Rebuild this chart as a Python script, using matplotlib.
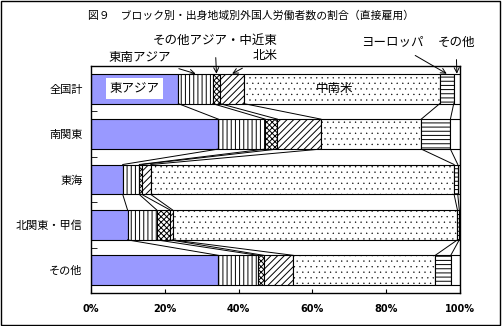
import numpy as np
import matplotlib
matplotlib.use('Agg')
import matplotlib.pyplot as plt
from matplotlib.patches import Rectangle

plt.rcParams['font.family'] = ['Noto Sans CJK JP', 'DejaVu Sans']
plt.rcParams['hatch.linewidth'] = 0.7

# データ（%）
categories = ['全国計', '南関東', '東海', '北関東・甲信', 'その他']
regions = ['東アジア', '東南アジア', 'その他アジア・中近東', '北米', '中南米', 'ヨーロッパ', 'その他']
east_asia = [23.7, 34.5, 8.6, 9.9, 34.5]
se_asia = [9.3, 12.7, 4.5, 7.9, 10.7]
other_asia = [2.0, 3.3, 0.7, 3.6, 1.6]
north_america = [6.5, 11.8, 2.4, 0.7, 8.0]
latin_america = [53.0, 27.2, 82.2, 77.2, 38.5]
europe = [3.8, 7.9, 1.0, 0.5, 4.2]
others = [1.7, 2.6, 0.6, 0.2, 2.5]
xticks = [0, 20, 40, 60, 80, 100]

series = [east_asia, se_asia, other_asia, north_america, latin_america, europe, others]
colors = ['#9999ff', 'white', 'white', 'white', 'white', 'white', 'white']
hatches = [None, '||||', 'xxxxxx', '/////', '...', '----', None]

data = np.array(series)
cum = np.vstack([np.zeros(len(categories)), np.cumsum(data, axis=0)])
y = np.arange(len(categories))
h = 0.66

fig = plt.figure(figsize=(5.03, 3.26), dpi=100)
ax = fig.add_axes([91 / 503, 1 - 293 / 326, (460 - 91) / 503, (293 - 66) / 326])

for k in range(len(series)):
    bars = ax.barh(y, data[k], left=cum[k], height=h, color=colors[k],
                   hatch=hatches[k], edgecolor='black', linewidth=0.8)
    if hatches[k] == '...':
        for b in bars:
            if hasattr(b, 'set_hatch_linewidth'):
                b.set_hatch_linewidth(0.2)

# 区分線
for i in range(len(categories) - 1):
    for k in range(1, len(series)):
        ax.plot([cum[k, i], cum[k, i + 1]], [y[i] + h / 2, y[i + 1] - h / 2],
                color='black', lw=0.7)

ax.set_xlim(0, 100)
ax.set_ylim(len(categories) - 0.5, -0.5)
ax.set_xticks(xticks)
ax.set_xticklabels([f'{t}%' for t in xticks], fontsize=7, fontweight='bold',
                   family='DejaVu Sans')
ax.set_yticks(y)
ax.set_yticklabels(categories, fontsize=8)
ax.set_yticks(np.arange(len(categories) + 1) - 0.5, minor=True)
ax.tick_params(axis='y', which='major', length=0, pad=6)
ax.tick_params(axis='y', which='minor', length=4, direction='in')
ax.tick_params(axis='x', direction='in', length=3, pad=8)
for s in ax.spines.values():
    s.set_linewidth(1.0)

# バー内のラベル
mid = (cum[:-1, 0] + cum[1:, 0]) / 2
ax.text(mid[0], y[0], regions[0], ha='center', va='center', fontsize=9,
        bbox=dict(boxstyle='square,pad=0.3', fc='white', ec='none'))
ax.text(mid[4] - 2, y[0], regions[4], ha='center', va='center', fontsize=9)

# 凡例（矢印付き）
top = y[0] - h / 2
label_pos = {1: (140 / 503, 1 - 57 / 326), 2: (215 / 503, 1 - 40 / 326),
             3: (265 / 503, 1 - 56 / 326), 5: (392 / 503, 1 - 42 / 326),
             6: (456 / 503, 1 - 42 / 326)}
for k, pos in label_pos.items():
    ax.annotate(regions[k], xy=(mid[k], top), xycoords='data',
                xytext=pos, textcoords='figure fraction',
                ha='center', va='center', fontsize=9,
                arrowprops=dict(arrowstyle='->', lw=0.7, color='black',
                                shrinkA=6, shrinkB=0),
                annotation_clip=False)

fig.text(0.5, 1 - 15 / 326, '図９　ブロック別・出身地域別外国人労働者数の割合（直接雇用）',
         ha='center', va='center', fontsize=7.8)

fig.patches.append(Rectangle((0.001, 0.002), 0.994, 0.995, transform=fig.transFigure,
                             fill=False, ec='black', lw=1.0))

fig.savefig('out.png', dpi=100)
